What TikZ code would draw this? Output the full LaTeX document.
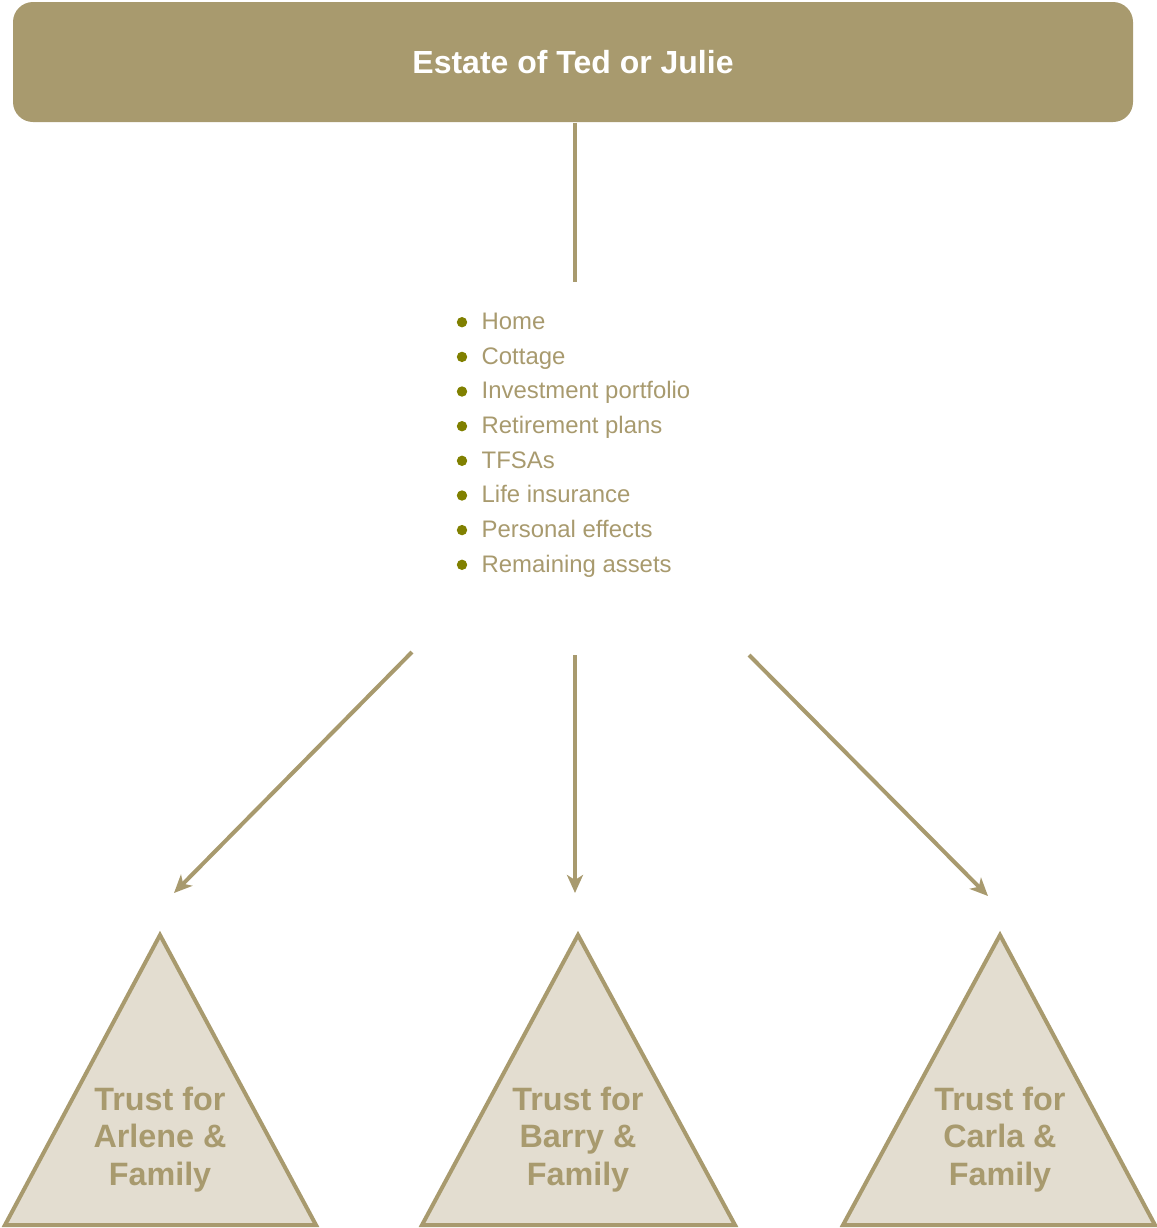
\documentclass[tikz,border=0pt]{standalone}
\usepackage{fontspec}
\setmainfont{Liberation Sans}
\usetikzlibrary{arrows.meta}

\definecolor{estategold}{HTML}{A89A6E}
\definecolor{trustfill}{HTML}{E3DDD0}
\definecolor{bulletolive}{HTML}{808000}

\begin{document}
\begin{tikzpicture}[x=0.1mm,y=-0.1mm,
    link/.style={draw=estategold,line width=0.4mm},
    arrow/.style={link,-{Stealth[length=1.8mm,width=1.6mm,inset=0.5mm]}},
    titlebox/.style={fill=estategold,rounded corners=2mm,minimum width=112mm,minimum height=12mm,
      inner sep=0,text=white,font=\fontsize{9.1}{11}\selectfont\bfseries},
    asset/.style={anchor=base west,inner sep=0,text=estategold,font=\fontsize{6.8}{8}\selectfont},
    dot/.style={fill=bulletolive},
    tri/.style={draw=estategold,fill=trustfill,line width=0.4mm},
    trust/.style={align=center,inner sep=0,text=estategold,font=\fontsize{9.2}{10.7}\selectfont\bfseries}]
%      \draw[help lines] (0,0) grid[step=1cm] (1157,1228);
      \useasboundingbox (0,0) rectangle (1157,1228);

      \node[titlebox] (estate) at (573,62) {Estate of Ted or Julie};

      \coordinate (listtop) at (575,282);
      \draw[link] (estate.south -| listtop) -- (listtop);

      % assets
      \node[asset] (home)      at (481,329.5) {Home};
      \node[asset] (cottage)   at (481,364.2) {Cottage};
      \node[asset] (invest)    at (481,398.8) {Investment portfolio};
      \node[asset] (retire)    at (481,433.5) {Retirement plans};
      \node[asset] (tfsa)      at (481,468.1) {TFSAs};
      \node[asset] (life)      at (481,502.8) {Life insurance};
      \node[asset] (personal)  at (481,537.4) {Personal effects};
      \node[asset] (remaining) at (481,572.1) {Remaining assets};

      \fill[dot] (462,322.2) circle (0.52mm);
      \fill[dot] (462,356.9) circle (0.52mm);
      \fill[dot] (462,391.5) circle (0.52mm);
      \fill[dot] (462,426.2) circle (0.52mm);
      \fill[dot] (462,460.8) circle (0.52mm);
      \fill[dot] (462,495.5) circle (0.52mm);
      \fill[dot] (462,530.1) circle (0.52mm);
      \fill[dot] (462,564.8) circle (0.52mm);

      % split into the three trusts
      \coordinate (fromA) at (412,652);
      \coordinate (toA)   at (174,893);
      \coordinate (fromB) at (575,655);
      \coordinate (toB)   at (575,893);
      \coordinate (fromC) at (749,655);
      \coordinate (toC)   at (988,896);
      \draw[arrow] (fromA) -- (toA);
      \draw[arrow] (fromB) -- (toB);
      \draw[arrow] (fromC) -- (toC);

      \draw[tri] (5,1225) -- (160,935) -- (316,1225) -- cycle;
      \draw[tri] (422,1225) -- (578,935) -- (735,1225) -- cycle;
      \draw[tri] (843,1225) -- (1000,935) -- (1155,1225) -- cycle;

      \node[trust] (trustA) at (160,1139.5) {Trust for\\Arlene \&\\Family};
      \node[trust] (trustB) at (578,1139.5) {Trust for\\Barry \&\\Family};
      \node[trust] (trustC) at (1000,1139.5) {Trust for\\Carla \&\\Family};
    \end{tikzpicture}
\end{document}
